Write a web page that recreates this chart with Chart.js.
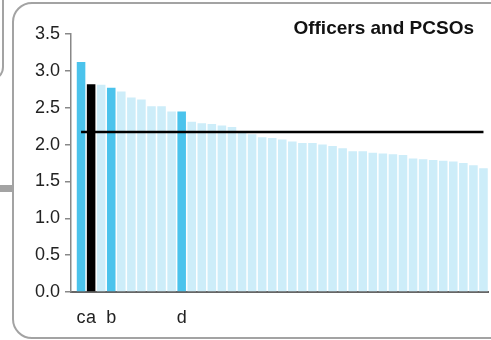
<!DOCTYPE html>
<html>
<head>
<meta charset="utf-8">
<script src="https://cdn.jsdelivr.net/npm/chart.js@4"></script>
<style>
  html, body { margin: 0; padding: 0; background: #fff; }
  #wrap { position: relative; width: 491px; height: 340px; overflow: hidden; }
  .frame { position: absolute; box-sizing: border-box; border: 2px solid #a3a3a3; }
  #panel { left: 12px; top: 2px; width: 520px; height: 337px; border-radius: 20px; }
  #sidePanel { left: -100px; top: -20px; width: 104px; height: 101px; border-radius: 14px; }
  #stub { position: absolute; left: 0; top: 185px; width: 13px; height: 7px; background: #a3a3a3; }
  #title { position: absolute; right: 17px; top: 17px; font: bold 19px "Liberation Sans", Arial, sans-serif; color: #111; }
  canvas { position: absolute; left: 0; top: 0; }
</style>
</head>
<body>
<div id="wrap">
  <div class="frame" id="sidePanel"></div>
  <div id="stub"></div>
  <div class="frame" id="panel"></div>
  <canvas id="chart" width="491" height="340"></canvas>
  <div id="title">Officers and PCSOs</div>
</div>
<script>
// 막대 라벨 (대부분 비어 있음)
const categories = [
    'c', 'a', '', 'b', '', '', '', '', '', '', 'd',
    '', '', '', '', '', '', '', '', '', '',
    '', '', '', '', '', '', '', '', '', '',
    '', '', '', '', '', '', '', '', '', ''
];
const values = [
    3.12, 2.82, 2.81, 2.77, 2.72, 2.64, 2.61, 2.52, 2.52, 2.45, 2.45,
    2.31, 2.29, 2.28, 2.26, 2.24, 2.18, 2.14, 2.10, 2.09, 2.07,
    2.04, 2.02, 2.02, 2.00, 1.98, 1.95, 1.91, 1.91, 1.89, 1.88,
    1.87, 1.86, 1.81, 1.80, 1.79, 1.78, 1.77, 1.75, 1.72, 1.68
];
const blueBars = [0, 3, 10];
const blackBars = [1];
const averageValue = 2.17;
const yTicks = [0, 0.5, 1.0, 1.5, 2.0, 2.5, 3.0, 3.5];

const barColors = values.map((v, i) => {
    if (blackBars.includes(i)) return '#000000';
    if (blueBars.includes(i)) return '#4bc3ec';
    return '#cdedf9';
});

Chart.defaults.font.family = '"Liberation Sans", Arial, sans-serif';
Chart.defaults.color = '#222';

const ctx = document.getElementById('chart').getContext('2d');
new Chart(ctx, {
    type: 'bar',
    data: {
        datasets: [
            {
                type: 'line',
                data: [{ x: 0, y: averageValue }, { x: values.length - 1, y: averageValue }],
                borderColor: '#000',
                borderWidth: 2.5,
                pointRadius: 0,
                order: 0
            },
            {
                data: values.map((v, i) => ({ x: i, y: v })),
                backgroundColor: barColors,
                categoryPercentage: 1,
                barPercentage: 0.85,
                order: 1
            }
        ]
    },
    options: {
        responsive: false,
        animation: false,
        devicePixelRatio: 1,
        layout: { padding: { top: 34, right: 3, left: 0, bottom: 0 } },
        plugins: {
            legend: { display: false },
            tooltip: { enabled: false }
        },
        scales: {
            x: {
                type: 'linear',
                offset: false,
                min: -1,
                max: 40.45,
                grid: { display: false, offset: false },
                border: { display: true, color: '#666', width: 2 },
                afterFit: s => { s.height = 48; s.paddingLeft = 0; s.paddingRight = 0; },
                ticks: {
                    stepSize: 1,
                    autoSkip: false,
                    maxRotation: 0,
                    padding: 7,
                    font: { size: 18 },
                    callback: v => (Number.isInteger(v) && categories[v]) ? categories[v] : ''
                }
            },
            y: {
                min: 0,
                max: 3.5,
                grid: { drawOnChartArea: false, tickLength: 6, color: '#888', lineWidth: 1.5 },
                border: { display: true, color: '#888', width: 1.5 },
                afterFit: s => { s.width = 71; },
                afterBuildTicks: s => { s.ticks = yTicks.map(v => ({ value: v })); },
                ticks: {
                    padding: 5,
                    font: { size: 18 },
                    callback: v => v.toFixed(1)
                }
            }
        }
    }
});
</script>
</body>
</html>
